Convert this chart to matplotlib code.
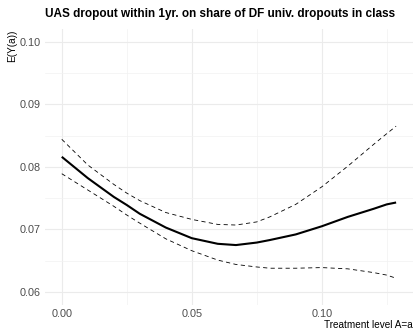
import matplotlib
matplotlib.use("Agg")
import matplotlib.pyplot as plt
from matplotlib.ticker import MultipleLocator

plt.rcParams['font.family'] = ['Liberation Sans', 'DejaVu Sans']

# treatment level and the read-off estimates
dose = [0, 0.01, 0.02, 0.025, 0.03, 0.04, 0.05, 0.06, 0.067, 0.075,
        0.08, 0.09, 0.10, 0.11, 0.12, 0.125, 0.1286]
est = [0.0816, 0.0782, 0.0752, 0.0739, 0.0725, 0.0703, 0.0686, 0.0677, 0.0675, 0.0679,
       0.0683, 0.0692, 0.0705, 0.0720, 0.0733, 0.0740, 0.0743]
upper = [0.0844, 0.0803, 0.0772, 0.0758, 0.0746, 0.0727, 0.0716, 0.0708, 0.0707, 0.0712,
         0.0720, 0.0740, 0.0768, 0.0801, 0.0836, 0.0853, 0.0865]
lower = [0.0789, 0.0763, 0.0737, 0.0723, 0.0710, 0.0685, 0.0666, 0.0651, 0.0644, 0.0640,
         0.0638, 0.0638, 0.0639, 0.0637, 0.0631, 0.0627, 0.0622]

fig = plt.figure(figsize=(4.14, 3.31), dpi=100)
ax = fig.add_axes([0.109, 0.080, 0.888, 0.832])

ax.plot(dose, est, color='black', lw=1.5, solid_capstyle='butt')
ax.plot(dose, upper, color='black', lw=0.6, linestyle=(0, (5, 4)))
ax.plot(dose, lower, color='black', lw=0.6, linestyle=(0, (5, 4)))

ax.set_xlim(-0.0064, 0.135)
ax.set_ylim(0.058, 0.102)
ax.xaxis.set_major_locator(MultipleLocator(0.05))
ax.xaxis.set_minor_locator(MultipleLocator(0.025))
ax.yaxis.set_major_locator(MultipleLocator(0.01))
ax.yaxis.set_minor_locator(MultipleLocator(0.005))
ax.set_xticks([0, 0.05, 0.10])
ax.set_xticklabels(['0.00', '0.05', '0.10'])
ax.set_yticks([0.06, 0.07, 0.08, 0.09, 0.10])
ax.set_yticklabels(['0.06', '0.07', '0.08', '0.09', '0.10'])

ax.grid(which='major', color='#ebebeb', lw=0.8)
ax.grid(which='minor', color='#f2f2f2', lw=0.5)
ax.set_axisbelow(True)
for s in ax.spines.values():
    s.set_visible(False)
ax.tick_params(which='both', length=0, labelsize=7.8, labelcolor='#4d4d4d', pad=3)

ax.set_xlabel('Treatment level A=a', fontsize=7.2, loc='right', labelpad=1)
ax.set_ylabel('E(Y(a))', fontsize=7.2, loc='top', labelpad=2)
ax.set_title('UAS dropout within 1yr. on share of DF univ. dropouts in class',
             fontsize=8.5, fontweight='bold', loc='left', pad=9)

fig.savefig('out.png', dpi=100)
